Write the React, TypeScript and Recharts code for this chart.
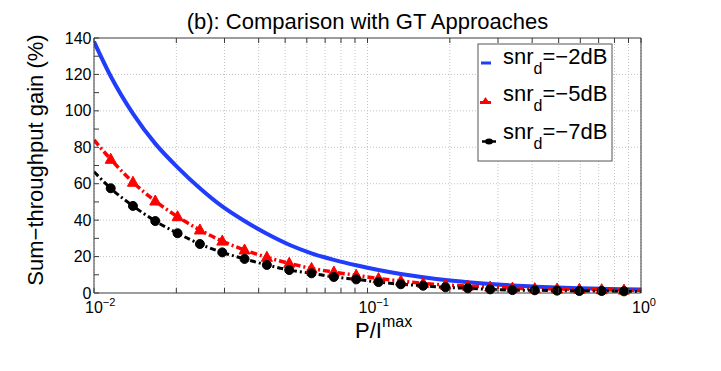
import { LineChart, Line, XAxis, YAxis, CartesianGrid, ReferenceLine } from "recharts";

const FONT = "'Liberation Sans', Arial, Helvetica, sans-serif";
const AXIS = "#3a3a3a";
const GRID = "#c4c4c4";
const BLUE = "#1f3dfa";
const RED = "#ff0000";
const BLACK = "#000000";

// P / I^max (log axis), line ends + the marker positions
const P_RATIO = [
  0.01, 0.01151, 0.01388, 0.01675, 0.02021, 0.02439, 0.02944, 0.03552, 0.04286,
  0.05173, 0.06242, 0.07534, 0.09092, 0.1097, 0.1324, 0.1598, 0.1928, 0.2327,
  0.2808, 0.3388, 0.4089, 0.4932, 0.5952, 0.7182, 0.8666, 1,
];

// sum-throughput gain (%) per snr_d
const GAIN_M2DB = [
  138, 119, 98.5, 82, 69, 57.5, 47.5, 39.5, 32.5, 26.5, 21.8, 18.2, 15.2, 12.6,
  10.4, 8.6, 7.1, 5.9, 4.9, 4.1, 3.5, 3.0, 2.6, 2.3, 2.0, 1.9,
];
const GAIN_M5DB = [
  84, 73.4, 60.8, 50.5, 41.9, 34.6, 28.5, 23.6, 19.6, 16.3, 13.5, 11.5, 9.7, 7.9,
  6.6, 5.3, 4.4, 3.8, 3.3, 2.7, 2.4, 2.2, 2.0, 1.8, 1.6, 1.5,
];
const GAIN_M7DB = [
  66.6, 57.5, 47.8, 39.5, 32.8, 26.9, 22.3, 18.7, 15.4, 12.6, 10.8, 8.8, 7.5, 6.0,
  4.8, 4.0, 3.1, 2.6, 2.0, 1.6, 1.5, 1.3, 1.1, 1.1, 0.9, 0.8,
];

const X_TICKS = [
  0.01, 0.02, 0.03, 0.04, 0.05, 0.06, 0.07, 0.08, 0.09,
  0.1, 0.2, 0.3, 0.4, 0.5, 0.6, 0.7, 0.8, 0.9, 1,
];
const Y_TICKS = [0, 10, 20, 30, 40, 50, 60, 70, 80, 90, 100, 110, 120, 130, 140];
const Y_LABELED = [0, 20, 40, 60, 80, 100, 120, 140];
const Y_GRID = [20, 40, 60, 80, 100, 120];

const data = P_RATIO.map((p, i) => ({
  p,
  g2: GAIN_M2DB[i],
  g5: GAIN_M5DB[i],
  g7: GAIN_M7DB[i],
  marked: i > 0 && i < P_RATIO.length - 1,
}));

function decadeExp(v: number) {
  const l = Math.log10(v);
  const e = Math.round(l);
  return Math.abs(l - e) < 1e-6 ? e : null;
}

function BottomTick(props: any) {
  const { x, y, payload } = props;
  const e = decadeExp(payload.value);
  return (
    <g>
      <line x1={x} y1={y} x2={x} y2={y - 5} stroke={AXIS} />
      {e !== null && (
        <text x={x - 9} y={y + 20} fontSize={16} fill="#000" fontFamily={FONT}>
          10
          <tspan dy={-7} fontSize={11}>
            {e === 0 ? "0" : "\u2212" + -e}
          </tspan>
        </text>
      )}
    </g>
  );
}

function TopTick(props: any) {
  const { x, y } = props;
  return <line x1={x} y1={y} x2={x} y2={y + 5} stroke={AXIS} />;
}

function LeftTick(props: any) {
  const { x, y, payload } = props;
  return (
    <g>
      <line x1={x} y1={y} x2={x + 5} y2={y} stroke={AXIS} />
      {Y_LABELED.includes(payload.value) && (
        <text
          x={x - 2.5}
          y={y + 5.5}
          textAnchor="end"
          fontSize={16}
          fill="#000"
          fontFamily={FONT}
        >
          {payload.value}
        </text>
      )}
    </g>
  );
}

function RightTick(props: any) {
  const { x, y } = props;
  return <line x1={x} y1={y} x2={x - 5} y2={y} stroke={AXIS} />;
}

function TriangleDot(props: any) {
  const { cx, cy, payload } = props;
  if (!payload.marked || cx == null) return <g />;
  return (
    <polygon
      points={`${cx},${cy - 6} ${cx - 5.5},${cy + 4} ${cx + 5.5},${cy + 4}`}
      fill={RED}
      stroke={RED}
      strokeWidth={1}
    />
  );
}

function CircleDot(props: any) {
  const { cx, cy, payload } = props;
  if (!payload.marked || cx == null) return <g />;
  return <circle cx={cx} cy={cy} r={4.5} fill={BLACK} stroke={BLACK} strokeWidth={1} />;
}

function LegendEntry({ y, label }: { y: number; label: string }) {
  return (
    <text x={503} y={y} fontSize={22} fill="#000" fontFamily={FONT}>
      snr
      <tspan dy={10} fontSize={16}>
        d
      </tspan>
      <tspan dy={-10}>{label}</tspan>
    </text>
  );
}

export default function App() {
  return (
    <div style={{ position: "relative", width: 721, height: 371, background: "#fff" }}>
      <style>{"body{margin:0}"}</style>
      <LineChart
        width={721}
        height={371}
        data={data}
        margin={{ top: 37, right: 79, bottom: 38, left: 54 }}
      >
        <CartesianGrid
          horizontal={false}
          stroke={GRID}
          strokeDasharray="1 2"
          verticalValues={X_TICKS}
        />
        {Y_GRID.map((v) => (
          <ReferenceLine
            key={v}
            y={v}
            stroke={GRID}
            strokeDasharray="1 2"
            ifOverflow="visible"
          />
        ))}
        <XAxis
          dataKey="p"
          type="number"
          scale="log"
          domain={[0.01, 1]}
          allowDataOverflow
          ticks={X_TICKS}
          interval={0}
          height={40}
          tickSize={0}
          tickMargin={0}
          tickLine={false}
          axisLine={{ stroke: AXIS }}
          tick={<BottomTick />}
        />
        <XAxis
          xAxisId="top"
          orientation="top"
          dataKey="p"
          type="number"
          scale="log"
          domain={[0.01, 1]}
          allowDataOverflow
          ticks={X_TICKS}
          interval={0}
          height={1}
          tickSize={0}
          tickMargin={0}
          tickLine={false}
          axisLine={{ stroke: AXIS }}
          tick={<TopTick />}
        />
        <YAxis
          type="number"
          domain={[0, 140]}
          ticks={Y_TICKS}
          interval={0}
          width={40}
          tickSize={0}
          tickMargin={0}
          tickLine={false}
          axisLine={{ stroke: AXIS }}
          tick={<LeftTick />}
        />
        <YAxis
          yAxisId="right"
          orientation="right"
          type="number"
          domain={[0, 140]}
          ticks={Y_TICKS}
          interval={0}
          width={1}
          tickSize={0}
          tickMargin={0}
          tickLine={false}
          axisLine={{ stroke: AXIS }}
          tick={<RightTick />}
        />
        <Line
          dataKey="g2"
          type="monotone"
          stroke={BLUE}
          strokeWidth={4}
          dot={false}
          activeDot={false}
          isAnimationActive={false}
        />
        <Line
          dataKey="g5"
          type="monotone"
          stroke={RED}
          strokeWidth={3.5}
          strokeDasharray="7 3 2 3"
          dot={<TriangleDot />}
          activeDot={false}
          isAnimationActive={false}
        />
        <Line
          dataKey="g7"
          type="monotone"
          stroke={BLACK}
          strokeWidth={3}
          strokeDasharray="6 3 2 3"
          dot={<CircleDot />}
          activeDot={false}
          isAnimationActive={false}
        />
      </LineChart>

      <svg
        width={721}
        height={371}
        style={{ position: "absolute", left: 0, top: 0, pointerEvents: "none" }}
      >
        <text x={367.5} y={29} textAnchor="middle" fontSize={22} fill="#000" fontFamily={FONT}>
          (b): Comparison with GT Approaches
        </text>
        <text
          transform="translate(43,160) rotate(-90)"
          textAnchor="middle"
          fontSize={22}
          fill="#000"
          fontFamily={FONT}
        >
          Sum{"\u2212"}throughput gain (%)
        </text>
        <text x={355} y={338} fontSize={22} fill="#000" fontFamily={FONT}>
          P/I
          <tspan dy={-11} fontSize={16}>
            max
          </tspan>
        </text>

        <rect x={478} y={44} width={134} height={117} fill="#fff" stroke="#555" strokeWidth={1} />
        <line x1={481} y1={63} x2={491} y2={63} stroke={BLUE} strokeWidth={3} />
        <LegendEntry y={63.5} label={"=\u22122dB"} />
        <line x1={480} y1={102.5} x2={491} y2={102.5} stroke={RED} strokeWidth={3} />
        <polygon points="485.5,97 481.5,103 489.5,103" fill={RED} />
        <LegendEntry y={101} label={"=\u22125dB"} />
        <line x1={482} y1={141.5} x2={496} y2={141.5} stroke={BLACK} strokeWidth={2.5} />
        <ellipse cx={489} cy={141.5} rx={4} ry={3} fill={BLACK} />
        <LegendEntry y={138.5} label={"=\u22127dB"} />
      </svg>
    </div>
  );
}
